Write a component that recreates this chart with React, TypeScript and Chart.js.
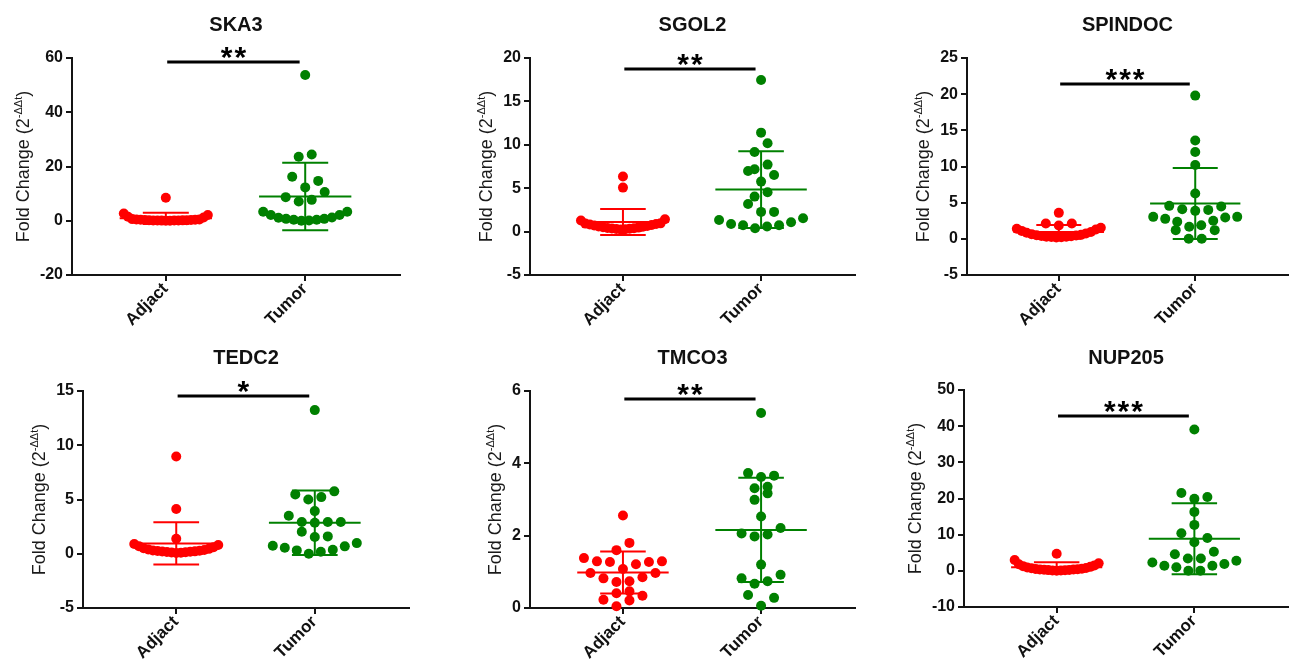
import React, { useEffect, useRef } from 'react';
import { Chart, registerables } from 'chart.js';

Chart.register(...registerables);

// ---------------- data ----------------
const CATEGORIES = ['Adjact', 'Tumor'];
const GENES = ['SKA3', 'SGOL2', 'SPINDOC', 'TEDC2', 'TMCO3', 'NUP205'];
const Y_TITLE_MAIN = 'Fold Change (2';
const Y_TITLE_SUP = '-ΔΔt';
const Y_TITLE_END = ')';

const SKA3_ADJACT = [8.5, 2.7, 2.1, 1.5, 1.2, 0.6, 0.5, 0.45, 0.4, 0.35, 0.3, 0.25, 0.2, 0.18, 0.15, 0.12, 0.1, 0.08, 0.06, 0.05, 0.03, 0.02];
const SKA3_TUMOR = [53.7, 24.4, 23.6, 16.2, 14.7, 12.3, 10.6, 8.7, 7.7, 7.1, 3.3, 2.1, 1.2, 0.7, 0.4, 0.1, 0.0, 0.4, 0.7, 1.1, 2.1, 3.3];

const SGOL2_ADJACT = [6.34, 5.07, 1.42, 1.27, 0.95, 0.92, 0.88, 0.82, 0.76, 0.7, 0.65, 0.6, 0.55, 0.5, 0.46, 0.42, 0.38, 0.35, 0.32, 0.3, 0.28, 0.25];
const SGOL2_TUMOR = [17.47, 11.4, 10.18, 9.18, 7.72, 7.18, 6.99, 6.53, 5.76, 4.53, 4.03, 3.19, 2.27, 2.27, 1.54, 1.34, 1.08, 0.88, 0.73, 0.73, 0.58, 0.38];

const SPINDOC_ADJACT = [3.59, 2.12, 2.12, 1.84, 1.52, 1.4, 1.3, 1.1, 0.95, 0.85, 0.75, 0.65, 0.55, 0.5, 0.45, 0.4, 0.35, 0.3, 0.28, 0.25, 0.22, 0.2];
const SPINDOC_TUMOR = [19.8, 13.6, 12.0, 10.2, 6.27, 4.56, 4.47, 4.1, 4.0, 3.87, 3.04, 3.04, 2.95, 2.76, 2.49, 2.35, 1.89, 1.66, 1.2, 1.2, 0.0, 0.0];

const TEDC2_ADJACT = [8.97, 4.12, 1.38, 0.9, 0.8, 0.7, 0.6, 0.5, 0.45, 0.4, 0.35, 0.3, 0.28, 0.25, 0.22, 0.2, 0.18, 0.16, 0.14, 0.12, 0.1, 0.08];
const TEDC2_TUMOR = [13.24, 5.75, 5.47, 5.22, 5.0, 3.93, 3.5, 2.92, 2.86, 2.92, 2.92, 2.03, 1.6, 1.54, 0.98, 0.74, 0.68, 0.55, 0.37, 0.31, 0.18, 0.0];

const TMCO3_ADJACT = [2.56, 1.8, 1.6, 1.38, 1.29, 1.27, 1.21, 1.27, 1.29, 1.08, 0.97, 0.97, 0.85, 0.82, 0.72, 0.74, 0.41, 0.46, 0.34, 0.23, 0.21, 0.05];
const TMCO3_TUMOR = [5.39, 3.73, 3.62, 3.66, 3.35, 3.31, 3.17, 2.99, 2.53, 2.21, 2.03, 1.98, 2.06, 1.2, 0.92, 0.74, 0.82, 0.67, 0.36, 0.28, 0.06];

const NUP205_ADJACT = [4.7, 3.0, 2.1, 1.8, 1.5, 1.3, 1.1, 0.9, 0.8, 0.7, 0.6, 0.5, 0.45, 0.4, 0.35, 0.3, 0.25, 0.2, 0.15, 0.12, 0.1, 0.05];
const NUP205_TUMOR = [39.1, 21.5, 20.4, 19.9, 16.3, 12.7, 10.4, 9.1, 7.9, 4.6, 5.3, 3.4, 3.4, 2.8, 2.3, 1.9, 1.4, 1.0, 1.4, 0.0, 0.0];

const ADJACT_MEAN = [0.9, 1.1, 0.95, 0.95, 0.98, 0.98];
const ADJACT_SD = [2.07, 1.5, 0.95, 1.95, 0.58, 1.38];
const TUMOR_MEAN = [8.96, 4.84, 4.88, 2.86, 2.16, 8.86];
const TUMOR_SD = [12.45, 4.42, 4.9, 2.98, 1.44, 9.8];

const Y_MIN = [-20, -5, -5, -5, 0, -10];
const Y_MAX = [60, 20, 25, 15, 6, 50];
const Y_STEP = [20, 5, 5, 5, 2, 10];

const SIG_LABEL = ['**', '**', '***', '*', '**', '***'];
const SIG_Y = [58.5, 18.73, 21.4, 14.55, 5.78, 42.8];

const ADJACT_VALUES = [SKA3_ADJACT, SGOL2_ADJACT, SPINDOC_ADJACT, TEDC2_ADJACT, TMCO3_ADJACT, NUP205_ADJACT];
const TUMOR_VALUES = [SKA3_TUMOR, SGOL2_TUMOR, SPINDOC_TUMOR, TEDC2_TUMOR, TMCO3_TUMOR, NUP205_TUMOR];

// ---------------- layout / style ----------------
const X_MIN = 0.327;
const X_MAX = 2.68;
const SIG_X_START = 1.01;
const SIG_X_END = 1.96;
const MEAN_HALF = 0.331;
const CAP_HALF = 0.165;

const ROW_PX = 11;
const DOT_SPACING_PX = 13;
const MAX_SPAN_PX = 84;
const DOT_RADIUS = 5;

const FONT = '"Liberation Sans", Arial, Helvetica, sans-serif';
const AXIS_COLOR = '#141414';
const ADJ_COLOR = '#ff0000';
const TUM_COLOR = '#008000';

const PANEL_BOXES = [
  { left: 0, top: 0, width: 430, height: 333, pad: { left: 32, top: 58, right: 30, bottom: 8 } },
  { left: 430, top: 0, width: 430, height: 333, pad: { left: 60, top: 58, right: 4, bottom: 8 } },
  { left: 860, top: 0, width: 433, height: 333, pad: { left: 67, top: 58, right: 1, bottom: 8 } },
  { left: 0, top: 333, width: 430, height: 333, pad: { left: 43, top: 58, right: 21, bottom: 8 } },
  { left: 430, top: 333, width: 430, height: 333, pad: { left: 60, top: 58, right: 2, bottom: 8 } },
  { left: 860, top: 333, width: 433, height: 333, pad: { left: 64, top: 57, right: 5, bottom: 9 } },
];

function slot(i: number, n: number): number {
  if (n % 2 === 1) {
    if (i === 0) return 0;
    const k = Math.ceil(i / 2);
    return i % 2 === 1 ? k : -k;
  }
  const k = Math.floor(i / 2) + 0.5;
  return i % 2 === 0 ? -k : k;
}

function Panel({ index }: { index: number }) {
  const ref = useRef<HTMLCanvasElement | null>(null);

  useEffect(() => {
    const canvas = ref.current;
    if (!canvas) return;
    const box = PANEL_BOXES[index];
    const adj = ADJACT_VALUES[index];
    const tum = TUMOR_VALUES[index];

    const seg = (x1: number, y1: number, x2: number, y2: number, color: string, width: number) => ({
      data: [{ x: x1, y: y1 }, { x: x2, y: y2 }],
      showLine: true,
      borderColor: color,
      backgroundColor: color,
      borderWidth: width,
      borderCapStyle: 'butt',
      pointRadius: 0,
      pointHoverRadius: 0,
      fill: false,
      clip: false,
    });
    const errorBars = (center: number, mean: number, sd: number, color: string) => [
      seg(center - MEAN_HALF, mean, center + MEAN_HALF, mean, color, 2),
      seg(center, mean - sd, center, mean + sd, color, 2),
      seg(center - CAP_HALF, mean + sd, center + CAP_HALF, mean + sd, color, 2),
      seg(center - CAP_HALF, mean - sd, center + CAP_HALF, mean - sd, color, 2),
    ];
    const dots = (values: number[], center: number, color: string) => ({
      data: values.map((v) => ({ x: center, y: v })),
      showLine: false,
      pointRadius: DOT_RADIUS,
      pointHoverRadius: DOT_RADIUS,
      pointBackgroundColor: color,
      pointBorderColor: color,
      pointBorderWidth: 0,
      borderColor: color,
      backgroundColor: color,
      clip: false,
    });

    const datasets: any[] = [
      seg(SIG_X_START, SIG_Y[index], SIG_X_END, SIG_Y[index], '#000000', 3),
      ...errorBars(1, ADJACT_MEAN[index], ADJACT_SD[index], ADJ_COLOR),
      ...errorBars(2, TUMOR_MEAN[index], TUMOR_SD[index], TUM_COLOR),
      dots(adj, 1, ADJ_COLOR),
      dots(tum, 2, TUM_COLOR),
    ];
    const adjIdx = datasets.length - 2;
    const tumIdx = datasets.length - 1;

    const annotate = {
      id: 'annotate',
      afterDraw(chart: any) {
        const ctx = chart.ctx;
        const area = chart.chartArea;
        const xs = chart.scales.x;
        const ys = chart.scales.y;
        ctx.save();
        // title
        ctx.fillStyle = '#111';
        ctx.font = `bold 20px ${FONT}`;
        ctx.textAlign = 'center';
        ctx.textBaseline = 'alphabetic';
        ctx.fillText(GENES[index], (area.left + area.right) / 2, 31);

        // rotated category labels
        ctx.font = `bold 17px ${FONT}`;
        ctx.fillStyle = '#111';
        ctx.textAlign = 'right';
        ctx.textBaseline = 'alphabetic';
        CATEGORIES.forEach((label, k) => {
          const px = xs.getPixelForValue(k + 1);
          ctx.save();
          ctx.translate(px + 3, area.bottom + 14.5);
          ctx.rotate(-Math.PI / 4);
          ctx.fillText(label, 0, 0);
          ctx.restore();
        });

        // y axis title with superscript
        ctx.font = `bold 16px ${FONT}`;
        let maxW = 0;
        for (const t of ys.ticks) {
          const w = ctx.measureText(String(t.label)).width;
          if (w > maxW) maxW = w;
        }
        const baseX = area.left - 9 - maxW - 11;
        const cy = (area.top + area.bottom) / 2;
        ctx.save();
        ctx.translate(baseX, cy);
        ctx.rotate(-Math.PI / 2);
        ctx.fillStyle = '#1a1a1a';
        ctx.textAlign = 'left';
        ctx.font = `18px ${FONT}`;
        const w1 = ctx.measureText(Y_TITLE_MAIN).width;
        const w3 = ctx.measureText(Y_TITLE_END).width;
        ctx.font = `11px ${FONT}`;
        const w2 = ctx.measureText(Y_TITLE_SUP).width;
        const x0 = -(w1 + w2 + w3) / 2;
        ctx.font = `18px ${FONT}`;
        ctx.fillText(Y_TITLE_MAIN, x0, 0);
        ctx.font = `11px ${FONT}`;
        ctx.fillText(Y_TITLE_SUP, x0 + w1, -7);
        ctx.font = `18px ${FONT}`;
        ctx.fillText(Y_TITLE_END, x0 + w1 + w2, 0);
        ctx.restore();

        // significance stars
        ctx.fillStyle = '#000';
        ctx.font = `bold 30px ${FONT}`;
        (ctx as any).letterSpacing = '2px';
        ctx.textAlign = 'center';
        ctx.textBaseline = 'alphabetic';
        const label = SIG_LABEL[index];
        const m = ctx.measureText(label);
        const barPx = ys.getPixelForValue(SIG_Y[index]);
        const targetBottom = barPx - 3;
        const sx = xs.getPixelForValue((SIG_X_START + SIG_X_END) / 2);
        ctx.fillText(label, sx + 1, targetBottom - m.actualBoundingBoxDescent);
        ctx.restore();
      },
    };

    const gridOpts = {
      display: true,
      drawOnChartArea: false,
      drawTicks: true,
      tickLength: 6,
      tickWidth: 2,
      lineWidth: 2,
      color: AXIS_COLOR,
    };
    const borderOpts = { display: true, color: AXIS_COLOR, width: 2 };

    const chart = new Chart(canvas, {
      type: 'scatter',
      data: { datasets },
      options: {
        animation: false,
        responsive: false,
        devicePixelRatio: 1,
        events: [],
        layout: { padding: box.pad },
        plugins: {
          legend: { display: false },
          tooltip: { enabled: false },
          title: { display: false },
        },
        scales: {
          x: {
            type: 'linear',
            min: X_MIN,
            max: X_MAX,
            afterBuildTicks: (s: any) => {
              s.ticks = CATEGORIES.map((_, k) => ({ value: k + 1 }));
            },
            afterFit: (s: any) => {
              s.height = 50;
            },
            ticks: {
              display: false,
              autoSkip: false,
              callback: (v: any) => CATEGORIES[Math.round(Number(v)) - 1] ?? '',
            },
            grid: gridOpts,
            border: borderOpts,
          },
          y: {
            type: 'linear',
            min: Y_MIN[index],
            max: Y_MAX[index],
            afterFit: (s: any) => {
              s.width = 40;
            },
            ticks: {
              stepSize: Y_STEP[index],
              padding: 3,
              color: '#111',
              font: { family: FONT, size: 16, weight: 'bold' },
            },
            grid: gridOpts,
            border: borderOpts,
          },
        },
      } as any,
      plugins: [annotate],
    });

    const placeSwarm = (dsIndex: number, values: number[], center: number) => {
      const xs: any = chart.scales.x;
      const ys: any = chart.scales.y;
      const order = values.map((_, i) => i).sort((a, b) => values[a] - values[b]);
      const rows: number[][] = [];
      let startPx = 0;
      for (const idx of order) {
        const py = ys.getPixelForValue(values[idx]);
        if (rows.length === 0 || startPx - py >= ROW_PX) {
          rows.push([idx]);
          startPx = py;
        } else {
          rows[rows.length - 1].push(idx);
        }
      }
      const cx = xs.getPixelForValue(center);
      const pts = values.map((v) => ({ x: center, y: v }));
      for (const row of rows) {
        const n = row.length;
        const spacing = n > 1 ? Math.min(DOT_SPACING_PX, MAX_SPAN_PX / (n - 1)) : 0;
        row.forEach((idx, i) => {
          pts[idx] = { x: xs.getValueForPixel(cx + slot(i, n) * spacing), y: values[idx] };
        });
      }
      (chart.data.datasets[dsIndex] as any).data = pts;
    };
    placeSwarm(adjIdx, adj, 1);
    placeSwarm(tumIdx, tum, 2);
    chart.update();

    return () => chart.destroy();
  }, [index]);

  const box = PANEL_BOXES[index];
  return (
    <canvas
      ref={ref}
      width={box.width}
      height={box.height}
      style={{ position: 'absolute', left: box.left, top: box.top, width: box.width, height: box.height }}
    />
  );
}

export default function App() {
  return (
    <div style={{ position: 'absolute', left: 0, top: 0, width: 1293, height: 666, background: '#ffffff', overflow: 'hidden' }}>
      {GENES.map((g, i) => (
        <Panel key={g} index={i} />
      ))}
    </div>
  );
}
